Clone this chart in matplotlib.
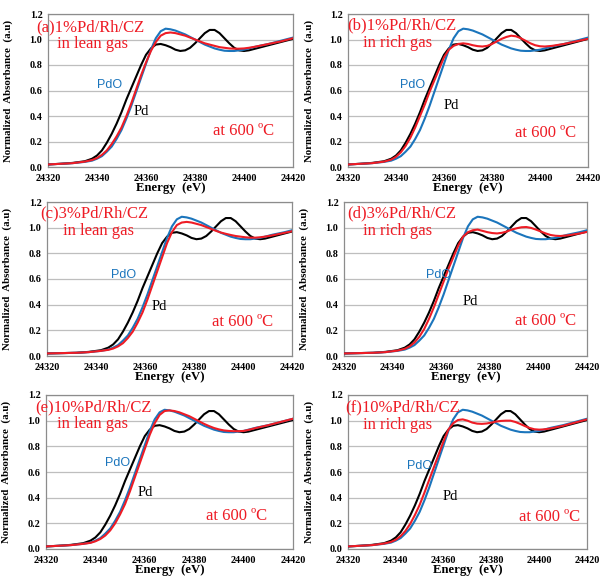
import matplotlib
matplotlib.use("Agg")
import matplotlib.pyplot as plt

# ---------------- data ----------------
# energy grid for panels (a), (b), (e), (f)
E_ab = [24320, 24325, 24330, 24335, 24338, 24340, 24342, 24344, 24346, 24348,
        24350, 24352, 24354, 24356, 24358, 24360, 24362, 24364, 24366, 24368,
        24370, 24372, 24374, 24376, 24378, 24380, 24382, 24384, 24386, 24388,
        24390, 24392, 24394, 24396, 24398, 24400, 24402, 24405, 24410, 24415, 24420]
# energy grid for panels (c), (d) (different calibration)
E_cd = [24320, 24332, 24337, 24342, 24345, 24347, 24349, 24351, 24353, 24355,
        24357, 24359, 24361, 24363, 24365, 24367, 24369, 24371, 24373, 24375,
        24377, 24379, 24381, 24383, 24385, 24387, 24389, 24391, 24393, 24395,
        24397, 24399, 24401, 24403, 24405, 24407, 24409, 24412, 24417, 24422, 24427]

pd_ref = [0.02, 0.025, 0.032, 0.045, 0.065, 0.09, 0.13, 0.19, 0.26, 0.34,
          0.43, 0.53, 0.62, 0.71, 0.80, 0.88, 0.93, 0.96, 0.965, 0.955,
          0.94, 0.92, 0.91, 0.915, 0.935, 0.97, 1.01, 1.05, 1.075, 1.075,
          1.05, 1.01, 0.97, 0.935, 0.915, 0.91, 0.915, 0.93, 0.955, 0.98, 1.005]
pdo_ref = [0.02, 0.025, 0.03, 0.04, 0.05, 0.065, 0.085, 0.12, 0.16, 0.22,
           0.29, 0.38, 0.48, 0.59, 0.70, 0.81, 0.92, 1.01, 1.065, 1.085,
           1.08, 1.07, 1.055, 1.04, 1.02, 1.0, 0.98, 0.96, 0.945, 0.93,
           0.92, 0.912, 0.91, 0.91, 0.915, 0.92, 0.93, 0.945, 0.965, 0.99, 1.015]

sample_a = [0.02, 0.025, 0.03, 0.042, 0.055, 0.07, 0.095, 0.13, 0.18, 0.24,
            0.31, 0.40, 0.50, 0.61, 0.72, 0.82, 0.91, 0.98, 1.03, 1.05,
            1.055, 1.05, 1.04, 1.03, 1.015, 1.0, 0.985, 0.97, 0.96, 0.95,
            0.94, 0.935, 0.93, 0.928, 0.928, 0.93, 0.935, 0.945, 0.965, 0.985, 1.01]
sample_b = [0.02, 0.025, 0.03, 0.042, 0.058, 0.08, 0.115, 0.165, 0.23, 0.31,
            0.40, 0.49, 0.59, 0.68, 0.77, 0.86, 0.92, 0.95, 0.965, 0.97,
            0.965, 0.955, 0.948, 0.945, 0.95, 0.965, 0.985, 1.005, 1.02, 1.03,
            1.025, 1.01, 0.99, 0.97, 0.955, 0.947, 0.945, 0.95, 0.965, 0.985, 1.005]
sample_c = [0.02, 0.025, 0.03, 0.04, 0.048, 0.058, 0.075, 0.10, 0.14, 0.19,
            0.26, 0.34, 0.44, 0.55, 0.66, 0.77, 0.88, 0.965, 1.02, 1.04,
            1.045, 1.04, 1.03, 1.02, 1.005, 0.99, 0.975, 0.962, 0.952, 0.943,
            0.935, 0.93, 0.925, 0.922, 0.922, 0.925, 0.93, 0.94, 0.96, 0.98, 1.0]
sample_d = [0.02, 0.025, 0.03, 0.042, 0.056, 0.075, 0.105, 0.15, 0.21, 0.29,
            0.38, 0.48, 0.58, 0.68, 0.77, 0.86, 0.93, 0.965, 0.98, 0.985,
            0.975, 0.965, 0.958, 0.955, 0.96, 0.97, 0.985, 0.995, 1.003, 1.005,
            0.998, 0.985, 0.97, 0.955, 0.943, 0.937, 0.935, 0.94, 0.955, 0.975, 0.995]
sample_e = [0.02, 0.025, 0.03, 0.04, 0.048, 0.06, 0.078, 0.105, 0.145, 0.20,
            0.27, 0.35, 0.45, 0.56, 0.67, 0.78, 0.89, 0.98, 1.045, 1.075,
            1.08, 1.075, 1.065, 1.05, 1.035, 1.015, 0.995, 0.975, 0.958, 0.943,
            0.932, 0.924, 0.92, 0.918, 0.918, 0.92, 0.928, 0.943, 0.965, 0.99, 1.015]
sample_f = [0.02, 0.025, 0.03, 0.042, 0.055, 0.072, 0.10, 0.14, 0.195, 0.265,
            0.345, 0.44, 0.54, 0.64, 0.74, 0.84, 0.93, 0.98, 1.005, 1.01,
            1.0, 0.985, 0.977, 0.975, 0.978, 0.985, 0.993, 0.998, 1.0, 1.0,
            0.99, 0.975, 0.958, 0.943, 0.933, 0.93, 0.932, 0.94, 0.96, 0.985, 1.01]

titles = ["(a)1%Pd/Rh/CZ", "(b)1%Pd/Rh/CZ", "(c)3%Pd/Rh/CZ",
          "(d)3%Pd/Rh/CZ", "(e)10%Pd/Rh/CZ", "(f)10%Pd/Rh/CZ"]
gases = ["in lean gas", "in rich gas", "in lean gas",
         "in rich gas", "in lean gas", "in rich gas"]
samples = [sample_a, sample_b, sample_c, sample_d, sample_e, sample_f]
energies = [E_ab, E_ab, E_cd, E_cd, E_ab, E_ab]

x_ticks = [24320, 24340, 24360, 24380, 24400, 24420]
y_ticks = [0.0, 0.2, 0.4, 0.6, 0.8, 1.0, 1.2]

# ---------------- layout ----------------
W, H = 600, 579
# axes boxes in pixels: (left, top, right, bottom)
boxes = [(48, 14, 293, 167), (348, 14, 588, 167),
         (47, 202, 292, 356), (344, 202, 587, 356),
         (46, 395, 293, 549), (348, 395, 587, 549)]
# text positions in axes fraction
title_pos = [(-0.049, 0.887), (-0.004, 0.900), (-0.029, 0.900),
             (0.012, 0.903), (-0.045, 0.895), (-0.013, 0.895)]
gas_pos = [(0.037, 0.780), (0.063, 0.784), (0.065, 0.786),
           (0.078, 0.786), (0.045, 0.788), (0.063, 0.78)]
pdo_pos = [(0.253, 0.536), (0.27, 0.536), (0.314, 0.526),
           (0.39, 0.526), (0.29, 0.56), (0.30, 0.54)]
pd_pos = [(0.38, 0.366), (0.43, 0.40), (0.457, 0.32),
          (0.52, 0.357), (0.40, 0.366), (0.43, 0.34)]
temp_pos = [(0.673, 0.235), (0.696, 0.22), (0.673, 0.22),
            (0.704, 0.227), (0.648, 0.214), (0.715, 0.21)]

RED = "#EE1C25"
BLUE = "#1B75BC"
SERIF = ["Liberation Serif", "DejaVu Serif"]
SANS = ["Liberation Sans", "DejaVu Sans"]

fig = plt.figure(figsize=(W / 100, H / 100), dpi=100)

for i in range(6):
    l, t, r, b = boxes[i]
    ax = fig.add_axes([l / W, 1 - b / H, (r - l) / W, (b - t) / H])
    ax.plot(energies[i], pd_ref, color="black", lw=1.5, zorder=3)
    ax.plot(energies[i], pdo_ref, color=BLUE, lw=1.5, zorder=3)
    ax.plot(energies[i], samples[i], color=RED, lw=1.5, zorder=4)
    ax.set_xlim(24320, 24420)
    ax.set_ylim(0, 1.2)
    ax.set_xticks(x_ticks)
    ax.set_yticks(y_ticks)
    ax.set_yticklabels([f"{v:.1f}" for v in y_ticks])
    ax.tick_params(length=0)
    ax.tick_params(axis="x", pad=5)
    ax.tick_params(axis="y", pad=4)
    for lab in ax.get_xticklabels() + ax.get_yticklabels():
        lab.set_fontfamily(SERIF)
        lab.set_fontweight("bold")
        lab.set_fontsize(7.3)
    ax.grid(axis="y", color="#BEBEBE", lw=0.9)
    ax.set_axisbelow(True)
    for s in ax.spines.values():
        s.set_color("#8C8C8C")
        s.set_linewidth(0.9)
    ax.set_xlabel("Energy  (eV)", fontfamily=SERIF, fontweight="bold", fontsize=9.2)
    ax.xaxis.set_label_coords(0.5, -0.098)
    ax.set_ylabel("Normalized  Absorbance  (a.u)", fontfamily=SERIF,
                  fontweight="bold", fontsize=7.8)
    ax.yaxis.set_label_coords(-0.143, 0.5)

    tx, ty = title_pos[i]
    ax.text(tx, ty, titles[i], transform=ax.transAxes, color=RED,
            fontfamily=SERIF, fontsize=12, va="baseline", ha="left", zorder=6)
    gx, gy = gas_pos[i]
    ax.text(gx, gy, gases[i], transform=ax.transAxes, color=RED,
            fontfamily=SERIF, fontsize=12, va="baseline", ha="left", zorder=6)
    px, py = pdo_pos[i]
    ax.text(px, py, "PdO", transform=ax.transAxes, color=BLUE,
            fontfamily=SANS, fontsize=9, va="center", ha="center", zorder=6)
    qx, qy = pd_pos[i]
    ax.text(qx, qy, "Pd", transform=ax.transAxes, color="black",
            fontfamily=SERIF, fontsize=10.5, va="center", ha="center", zorder=6)
    sx, sy = temp_pos[i]
    ax.text(sx, sy, "at 600 ºC", transform=ax.transAxes, color=RED,
            fontfamily=SERIF, fontsize=12, va="center", ha="left", zorder=6)

fig.savefig("out.png", dpi=100)
